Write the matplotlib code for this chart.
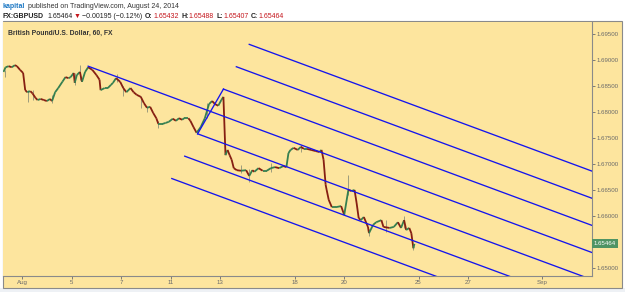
import matplotlib
matplotlib.use("Agg")
import matplotlib.pyplot as plt
from matplotlib.collections import LineCollection
from matplotlib.patches import Rectangle
import matplotlib.transforms as mtransforms
import numpy as np

# ---------------- data (trading hours since Aug 1, 00:00) ----------------
hours = [-18, -16, -13, -10, -7, -5, -2, 1, 3, 5, 8, 10, 13, 15, 18, 21, 24, 27, 29,
         32, 35, 39, 42, 45, 47, 50, 51, 53, 56, 58, 61, 64, 68, 72, 75, 76, 80, 83,
         86, 88, 91, 95, 98, 101, 105, 108, 111, 115, 118, 121, 124, 127, 130, 132,
         136, 139, 142, 146, 149, 152, 155, 157, 161, 163, 166, 169, 173, 177, 181,
         184, 187, 190, 193, 195, 197, 199, 201, 203, 205, 208, 212, 217, 220, 223,
         225, 229, 233, 237, 241, 245, 249, 253, 256, 258, 260, 263, 267, 270, 273,
         276, 280, 284, 288, 290, 292, 294, 295, 297, 300, 304, 309, 312, 316, 319,
         322, 324, 326, 328, 331, 335, 336, 340, 343, 348, 350, 356, 360, 364, 367,
         370, 372, 375, 377, 379, 380]
closes = [1.6877, 1.6886, 1.6888, 1.6886, 1.6890, 1.6888, 1.6881, 1.6875, 1.6842,
          1.6838, 1.6840, 1.6836, 1.6827, 1.6823, 1.6825, 1.6823, 1.6821, 1.6825,
          1.6821, 1.6838, 1.6846, 1.6858, 1.6867, 1.6865, 1.6867, 1.6875, 1.6856,
          1.6871, 1.6877, 1.6858, 1.6877, 1.6886, 1.6881, 1.6871, 1.6862, 1.6842,
          1.6846, 1.6846, 1.6852, 1.6856, 1.6865, 1.6858, 1.6846, 1.6838, 1.6846,
          1.6838, 1.6833, 1.6829, 1.6817, 1.6808, 1.6810, 1.6798, 1.6788, 1.6777,
          1.6777, 1.6779, 1.6781, 1.6787, 1.6783, 1.6788, 1.6785, 1.6788, 1.6788,
          1.6783, 1.6771, 1.6760, 1.6771, 1.6788, 1.6815, 1.6821, 1.6815, 1.6812,
          1.6823, 1.6829, 1.6717, 1.6727, 1.6717, 1.6708, 1.6692, 1.6688, 1.6687,
          1.6688, 1.6677, 1.6688, 1.6685, 1.6692, 1.6687, 1.6687, 1.6692, 1.6694,
          1.6692, 1.6696, 1.6694, 1.6721, 1.6727, 1.6731, 1.6727, 1.6733, 1.6729,
          1.6729, 1.6727, 1.6725, 1.6723, 1.6727, 1.6708, 1.6660, 1.6650, 1.6631,
          1.6617, 1.6617, 1.6619, 1.6602, 1.6650, 1.6648, 1.6650, 1.6625, 1.6596,
          1.6592, 1.6598, 1.6579, 1.6567, 1.6583, 1.6588, 1.6592, 1.6579, 1.6577,
          1.6579, 1.6588, 1.6577, 1.6592, 1.6573, 1.6577, 1.6567, 1.6538, 1.65464]

# visible wicks (hour, low, high)
wick_hours = [-17, 6, 11, 29, 51, 56, 92, 98, 115, 121, 132, 179, 212, 220, 241,
              270, 316, 336, 352, 370, 379]
wick_lows = [1.6867, 1.6819, 1.6823, 1.6817, 1.6852, 1.6862, 1.6858, 1.6831, 1.6808,
             1.6800, 1.6769, 1.6788, 1.6683, 1.6665, 1.6685, 1.6723, 1.6640, 1.6562,
             1.6569, 1.6577, 1.6535]
wick_highs = [1.6880, 1.6842, 1.6842, 1.6833, 1.6875, 1.6890, 1.6873, 1.6850, 1.6831,
              1.6812, 1.6783, 1.6817, 1.6698, 1.6690, 1.6702, 1.6737, 1.6679, 1.6575,
              1.6592, 1.6600, 1.6546]

# Andrews' pitchfork pivots (A, B, C) and extra parallel levels
pivot_hours = [64, 170, 195]
pivot_prices = [1.6888, 1.6758, 1.6844]
fork_levels = [1, 2, 3]

day_tick_hours = [0, 48, 96, 144, 192, 264, 312, 384, 432, 504]
day_tick_labels = ["Aug", "5", "7", "11", "13", "18", "20", "25", "27", "Sep"]
price_ticks = [1.650, 1.660, 1.665, 1.670, 1.675, 1.680, 1.685, 1.690, 1.695]
last_price = 1.65464

# ---------------- styling ----------------
W, H = 625, 292
BG = "#fde59e"
FONT = "Liberation Sans"
plt.rcParams["font.family"] = [FONT, "DejaVu Sans"]

fig = plt.figure(figsize=(W / 100, H / 100), dpi=100)
fig.patch.set_facecolor("white")


def fx(x):
    return x / W


def fy(y):
    return 1 - y / H


# bottom light strip and chart panel
fig.patches.append(Rectangle((0, 0), 1, fy(288), transform=fig.transFigure,
                             facecolor="#eef1f5", edgecolor="none", zorder=-2))
fig.patches.append(Rectangle((fx(3), fy(288)), fx(619), fy(21) - fy(288),
                             transform=fig.transFigure, facecolor=BG,
                             edgecolor="#8a8a8a", linewidth=0.8, zorder=-1))

ax = fig.add_axes([fx(3), fy(276), fx(589), fy(22) - fy(276)])
ax.set_zorder(2)
ax.set_facecolor(BG)
ax.set_xlim(-18.5, 552)
ax.set_ylim(1.64846, 1.6973)

for s in ["left", "top"]:
    ax.spines[s].set_visible(False)
for s in ["right", "bottom"]:
    ax.spines[s].set_color("#8a8a8a")
    ax.spines[s].set_linewidth(0.8)

# price trace
h = np.array(hours, dtype=float)
c = np.array(closes)
segs = [[(h[i - 1], c[i - 1]), (h[i], c[i])] for i in range(1, len(h))]
cols = ["#357f50" if c[i] >= c[i - 1] else "#861f12" for i in range(1, len(h))]
ax.vlines(wick_hours, wick_lows, wick_highs, colors="#9c9b7c", linewidth=0.7, zorder=2)
ax.add_collection(LineCollection(segs, colors=cols, linewidths=1.3, zorder=3,
                                 capstyle="butt", joinstyle="miter"))

# pitchfork
A = np.array([pivot_hours[0], pivot_prices[0]])
B = np.array([pivot_hours[1], pivot_prices[1]])
C = np.array([pivot_hours[2], pivot_prices[2]])
M = (B + C) / 2
d = M - A
far = 10.0
blue = "#1414ee"
ax.plot([A[0], A[0] + far * d[0]], [A[1], A[1] + far * d[1]], color=blue, lw=0.95, zorder=4)
ax.plot([B[0], C[0]], [B[1], C[1]], color=blue, lw=0.95, zorder=4)
half = C - M
for k in fork_levels:
    for sgn in (1, -1):
        P = M + sgn * k * half
        ax.plot([P[0], P[0] + far * d[0]], [P[1], P[1] + far * d[1]],
                color=blue, lw=0.95, zorder=4)

# axes ticks
ax.yaxis.tick_right()
ax.set_yticks(price_ticks)
ax.set_yticklabels([f"{p:.5f}" for p in price_ticks])
ax.set_xticks(day_tick_hours)
ax.set_xticklabels(day_tick_labels)
ax.tick_params(axis="both", labelsize=4.4, colors="#6a6a6a", length=2, width=0.6,
               pad=1.2, labelcolor="#6a6a6a")

trans = mtransforms.blended_transform_factory(ax.transAxes, ax.transData)
ax.text(1.003, last_price, "1.65464", transform=trans, ha="left", va="center",
        fontsize=4.4, color="white",
        bbox=dict(boxstyle="square,pad=0.35", fc="#4f9464", ec="none"), zorder=6,
        clip_on=False)

# title inside the chart
fig.text(fx(8), fy(33), "British Pound/U.S. Dollar, 60, FX", fontsize=4.9,
         fontweight="bold", color="#333333", ha="left", va="center", zorder=5)

# header
renderer = fig.canvas.get_renderer()


def seq(x, y, pieces):
    for txt, color, weight, gap in pieces:
        t = fig.text(fx(x), fy(y), txt, fontsize=5.0, color=color,
                     fontweight=weight, ha="left", va="center")
        bb = t.get_window_extent(renderer)
        x = bb.x1 + gap


seq(3, 6, [("kapital", "#1d78c4", "bold", 2.2),
           ("published on TradingView.com, August 24, 2014", "#333333", "normal", 0)])
red = "#c4161c"
seq(3, 16, [("FX:GBPUSD", "#222222", "bold", 3.0),
            ("1.65464", "#222222", "normal", 1.5),
            ("\u25BC", red, "normal", 1.2),
            ("\u22120.00195 (\u22120.12%)", "#222222", "normal", 3.0),
            ("O:", "#222222", "bold", 0.3),
            ("1.65432", red, "normal", 2.5),
            ("H:", "#222222", "bold", 0.3),
            ("1.65488", red, "normal", 2.5),
            ("L:", "#222222", "bold", 0.3),
            ("1.65407", red, "normal", 2.5),
            ("C:", "#222222", "bold", 0.3),
            ("1.65464", red, "normal", 0)])

fig.savefig("out.png", dpi=100, facecolor=fig.get_facecolor())
